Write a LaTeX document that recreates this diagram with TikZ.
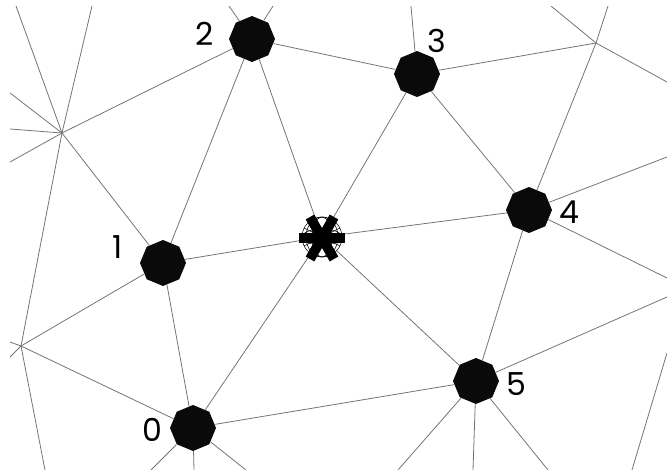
\documentclass[tikz,border=0pt]{standalone}
\usepackage{fontspec}
\setmainfont{Poppins}
\usetikzlibrary{shapes.geometric,calc}
\tikzset{
  site/.style={regular polygon,regular polygon sides=8,shape border rotate=22.5,
    fill=black!96,draw=none,minimum size=0.92cm,inner sep=0pt},
  hub/.style={circle,minimum size=0.8cm,inner sep=0pt},
  edge/.style={draw=black!55,line width=0.45pt},
  wire/.style={draw=black,line width=0.3pt},
  tag/.style={font=\fontsize{18}{18}\selectfont}
}
\begin{document}
\begin{tikzpicture}[x=0.02cm,y=-0.02cm]
\useasboundingbox (0,0) rectangle (667,470);
% sites of the triangulation
\foreach \n/\x/\y in {n0/193/428,n1/163/263,n2/252/39,n3/417/74,n4/529/210,n5/476/381}
  \node[site] (\n) at (\x,\y) {};
\node[hub] (c) at (322,237) {};
% outer vertices
\coordinate (va) at (62,133);
\coordinate (vb) at (596,43);
\coordinate (vc) at (21,346);
% labels
\node[tag] (l0) at (152,430) {0};
\node[tag] (l1) at (118,247) {1};
\node[tag] (l2) at (205,34) {2};
\node[tag] (l3) at (437,41) {3};
\node[tag] (l4) at (569,212) {4};
\node[tag] (l5) at (516,384) {5};
\begin{scope}
  \clip (10,6) rectangle (667,470);
  \foreach \a/\b in {n2/n3,n2/n1,n2/c,n2/va,n3/c,n3/n4,n3/vb,n4/c,n4/n5,n4/vb,
      n1/c,n1/n0,n1/va,n1/vc,n0/c,n0/n5,n0/vc,n5/c,va/vc}
    \draw[edge] (\a) -- (\b);
  % edges leaving the frame
  \foreach \n/\x/\y [count=\i] in {va/16/6,va/92/6,va/10/93,va/10/129,va/10/162,
      n2/229/6,n2/273/6,n3/411/6,vb/551/6,vb/608/6,vb/667/82,
      n4/667/157,n4/667/278,n5/667/297,n5/398/470,n5/473/470,n5/548/470,
      n0/151/470,n0/194/470,n0/246/470,vc/10/342,vc/10/357,vc/45/470}{
    \coordinate (o\i) at (\x,\y);
    \draw[edge] (\n) -- (o\i);
  }
  \coordinate (p1) at (667,353);
  \coordinate (p2) at (632,470);
  \draw[edge] (p1) -- (p2);
\end{scope}
% wire sphere and asterisk at the centre
\draw[wire] (c) circle (20);
\draw[wire] (c) ellipse (10 and 20);
\draw[wire] (c) ellipse (20 and 8);
\draw[wire] (c) ellipse (16 and 20);
\draw[wire] ($(c)+(-18,-9)$) -- ($(c)+(18,9)$);
\draw[wire] ($(c)+(-18,9)$) -- ($(c)+(18,-9)$);
\draw[line width=5.6pt] ($(c)+(-23,1)$) -- ($(c)+(23,1)$);
\draw[line width=5.6pt] ($(c)+(-12,-20)$) -- ($(c)+(12,22)$);
\draw[line width=5.6pt] ($(c)+(12,-20)$) -- ($(c)+(-12,22)$);
\end{tikzpicture}
\end{document}
